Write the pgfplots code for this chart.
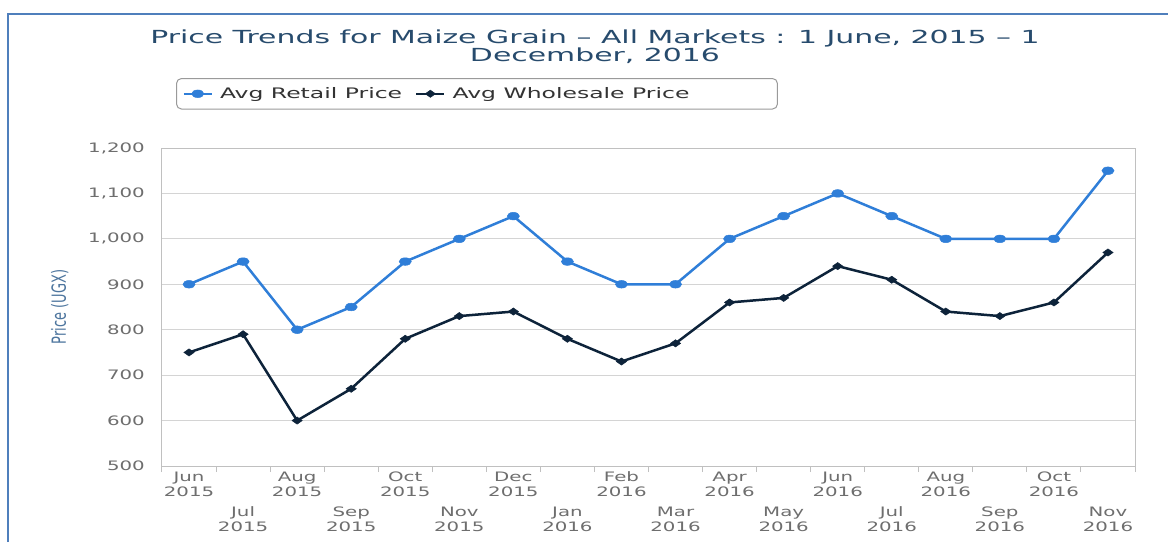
\documentclass[border=0pt]{standalone}
\usepackage{pgfplots}
\pgfplotsset{compat=1.18}
\usepackage{fontspec}
\setmainfont[FakeStretch=1.52]{DejaVu Sans}
\newfontfamily\titlefont[FakeStretch=1.66]{DejaVu Sans}
\newfontfamily\legfont[FakeStretch=1.62]{DejaVu Sans}
\newfontfamily\ylabfont{DejaVu Sans}
\definecolor{retail}{HTML}{2F7ED8}
\definecolor{whole}{HTML}{0D233A}
\definecolor{titlec}{HTML}{274B6D}
\definecolor{tickc}{HTML}{6E6E6E}
\definecolor{ylabc}{HTML}{4D759E}
\definecolor{gridc}{HTML}{D4D4D4}
\definecolor{axisc}{HTML}{C0C0C0}
\definecolor{framec}{HTML}{4F7FBC}
\definecolor{legc}{HTML}{9A9A9A}

\pgfplotstableread{
x retail whole
0 900 750
1 950 790
2 800 600
3 850 670
4 950 780
5 1000 830
6 1050 840
7 950 780
8 900 730
9 900 770
10 1000 860
11 1050 870
12 1100 940
13 1050 910
14 1000 840
15 1000 830
16 1000 860
17 1150 970
}\pricedata

\newcommand{\tl}[2]{\rule{0pt}{11pt}#1\\#2}
\newcommand{\tickfont}{\fontsize{13}{15}\selectfont\setlength{\lineskiplimit}{-20pt}\relax}
\newcommand{\ttlfont}{\titlefont\fontsize{18}{18}\selectfont\setlength{\lineskiplimit}{-20pt}\relax}

\begin{document}
\begin{tikzpicture}
\useasboundingbox (0,0) rectangle (1168pt,542pt);
\fill[white] (0,0) rectangle (1168pt,542pt);
\draw[framec, line width=2pt] (8pt,0pt) -- (8pt,528pt) -- (1168pt,528pt);
\begin{axis}[
  at={(162pt,76pt)}, anchor=south west,
  scale only axis, width=973pt, height=318pt,
  xmin=-0.5, xmax=17.5, ymin=500, ymax=1200,
  clip=false,
  axis line style={axisc, line width=1pt},
  ytick={500,600,...,1200},
  ymajorgrids, grid style={gridc, line width=1pt},
  /pgf/number format/1000 sep={,},
  /pgf/number format/assume math mode=true,
  xtick pos=bottom, ytick pos=left,
  major tick length=0pt,
  tick align=outside,
  minor xtick={-0.5,0.5,...,17.5},
  minor tick length=6pt,
  minor tick style={axisc, line width=1pt},
  yticklabel style={font=\fontsize{13}{15}\selectfont, text=tickc, anchor=east, inner sep=0pt, xshift=-17pt},
  xtick={0,2,...,16},
  xticklabels={{\tl{Jun}{2015}},{\tl{Aug}{2015}},{\tl{Oct}{2015}},{\tl{Dec}{2015}},{\tl{Feb}{2016}},{\tl{Apr}{2016}},{\tl{Jun}{2016}},{\tl{Aug}{2016}},{\tl{Oct}{2016}}},
  extra x ticks={1,3,...,17},
  extra x tick labels={{\tl{Jul}{2015}},{\tl{Sep}{2015}},{\tl{Nov}{2015}},{\tl{Jan}{2016}},{\tl{Mar}{2016}},{\tl{May}{2016}},{\tl{Jul}{2016}},{\tl{Sep}{2016}},{\tl{Nov}{2016}}},
  extra x tick style={xticklabel style={yshift=-35pt}},
  xticklabel style={font=\tickfont, text=tickc, align=center, anchor=north, inner sep=0pt, yshift=-4pt},
  ylabel={Price (UGX)},
  ylabel style={at={(axis description cs:-0.105,0.5)}, anchor=center, yscale=1.5, font=\ylabfont\fontsize{13}{15}\selectfont, text=ylabc},
  title={Price Trends for Maize Grain – All Markets : 1 June, 2015 – 1\\December, 2016},
  title style={at={(axis description cs:0.445,1.352)}, anchor=north, align=center, inner sep=0pt, font=\ttlfont, text=titlec},
  legend columns=2,
  legend style={at={(axis description cs:0.0144,1.2201)}, anchor=north west,
    draw=legc, line width=1pt, rounded corners=5pt,
    inner xsep=6pt, inner ysep=9pt,
    font=\legfont\fontsize{14.5}{16}\selectfont,
    nodes={inner sep=0pt, text=black!80},
    column sep=7pt,
    /tikz/every even column/.append style={column sep=13pt}},
  legend image code/.code={\draw[mark repeat=2, mark phase=2] plot coordinates {(0pt,0pt) (14pt,0pt) (28pt,0pt)};},
]
\addplot[retail, line width=2.5pt, mark=*, mark size=3.8pt, mark options={xscale=1.6, line width=0.5pt, fill=retail, draw=retail}] table[x=x, y=retail] {\pricedata};
\addlegendentry{Avg Retail Price}
\addplot[whole, line width=2.5pt, mark=diamond*, mark size=3.6pt, mark options={xscale=1.9, line width=0.5pt, fill=whole, draw=whole}] table[x=x, y=whole] {\pricedata};
\addlegendentry{Avg Wholesale Price\rule{82pt}{0pt}}
\end{axis}
\end{tikzpicture}
\end{document}
